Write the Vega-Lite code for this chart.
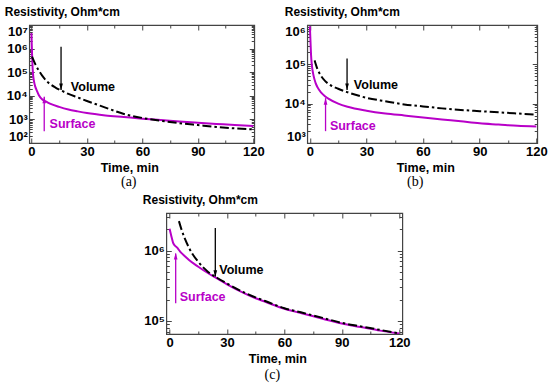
{
  "$schema": "https://vega.github.io/schema/vega-lite/v6.json",
  "padding": {"left": 3, "top": 4, "right": 0, "bottom": 0},
  "background": "white",
  "config": {
    "view": {"stroke": "#444", "strokeWidth": 1.2},
    "axis": {"grid": false, "domain": false, "labelFont": "Liberation Sans", "labelFontWeight": "bold", "labelFontSize": 13, "labelColor": "#000", "titleFont": "Liberation Sans", "titleFontWeight": "bold", "titleFontSize": 12.5, "titleColor": "#000", "tickColor": "#444", "tickWidth": 1, "labelPadding": 7, "titlePadding": 1, "labelOverlap": false, "labelFlush": false, "labelBound": false},
    "text": {"font": "Liberation Sans", "fontWeight": "bold", "fontSize": 12.5}
  },
  "datasets": {
    "curves": [
      {"p":"a","s":"Surface","t":0,"r":4570000},{"p":"a","s":"Surface","t":0.15,"r":1580000},{"p":"a","s":"Surface","t":0.3,"r":631000},{"p":"a","s":"Surface","t":0.6,"r":158000},{"p":"a","s":"Surface","t":1,"r":63100},{"p":"a","s":"Surface","t":1.5,"r":36000},{"p":"a","s":"Surface","t":2,"r":25100},{"p":"a","s":"Surface","t":3,"r":15800},{"p":"a","s":"Surface","t":4,"r":10500},{"p":"a","s":"Surface","t":6,"r":6760},{"p":"a","s":"Surface","t":8,"r":5620},{"p":"a","s":"Surface","t":10,"r":4680},{"p":"a","s":"Surface","t":15,"r":3390},{"p":"a","s":"Surface","t":20,"r":2630},{"p":"a","s":"Surface","t":25,"r":2190},{"p":"a","s":"Surface","t":30,"r":1860},{"p":"a","s":"Surface","t":40,"r":1480},{"p":"a","s":"Surface","t":50,"r":1260},{"p":"a","s":"Surface","t":60,"r":1070},{"p":"a","s":"Surface","t":70,"r":933},{"p":"a","s":"Surface","t":80,"r":813},{"p":"a","s":"Surface","t":90,"r":724},{"p":"a","s":"Surface","t":100,"r":646},{"p":"a","s":"Surface","t":110,"r":575},{"p":"a","s":"Surface","t":120,"r":525},
      {"p":"a","s":"Volume","t":0.3,"r":457000},{"p":"a","s":"Volume","t":2,"r":224000},{"p":"a","s":"Volume","t":4,"r":117000},{"p":"a","s":"Volume","t":6,"r":67600},{"p":"a","s":"Volume","t":8,"r":43700},{"p":"a","s":"Volume","t":10,"r":31600},{"p":"a","s":"Volume","t":13,"r":22400},{"p":"a","s":"Volume","t":16,"r":17000},{"p":"a","s":"Volume","t":20,"r":12000},{"p":"a","s":"Volume","t":25,"r":8510},{"p":"a","s":"Volume","t":30,"r":6030},{"p":"a","s":"Volume","t":35,"r":4370},{"p":"a","s":"Volume","t":40,"r":3160},{"p":"a","s":"Volume","t":50,"r":1700},{"p":"a","s":"Volume","t":60,"r":1150},{"p":"a","s":"Volume","t":70,"r":871},{"p":"a","s":"Volume","t":80,"r":692},{"p":"a","s":"Volume","t":90,"r":575},{"p":"a","s":"Volume","t":100,"r":479},{"p":"a","s":"Volume","t":110,"r":417},{"p":"a","s":"Volume","t":120,"r":380},
      {"p":"b","s":"Surface","t":0,"r":933000},{"p":"b","s":"Surface","t":0.3,"r":398000},{"p":"b","s":"Surface","t":0.6,"r":178000},{"p":"b","s":"Surface","t":1,"r":100000},{"p":"b","s":"Surface","t":2,"r":50100},{"p":"b","s":"Surface","t":3,"r":33900},{"p":"b","s":"Surface","t":4,"r":26300},{"p":"b","s":"Surface","t":6,"r":19100},{"p":"b","s":"Surface","t":8,"r":15500},{"p":"b","s":"Surface","t":10,"r":13200},{"p":"b","s":"Surface","t":15,"r":10000},{"p":"b","s":"Surface","t":20,"r":8320},{"p":"b","s":"Surface","t":30,"r":6610},{"p":"b","s":"Surface","t":40,"r":5620},{"p":"b","s":"Surface","t":50,"r":5010},{"p":"b","s":"Surface","t":60,"r":4470},{"p":"b","s":"Surface","t":70,"r":3980},{"p":"b","s":"Surface","t":80,"r":3550},{"p":"b","s":"Surface","t":90,"r":3160},{"p":"b","s":"Surface","t":100,"r":2950},{"p":"b","s":"Surface","t":110,"r":2750},{"p":"b","s":"Surface","t":120,"r":2630},
      {"p":"b","s":"Volume","t":2.5,"r":126000},{"p":"b","s":"Volume","t":4,"r":75900},{"p":"b","s":"Volume","t":6,"r":50100},{"p":"b","s":"Volume","t":8,"r":38000},{"p":"b","s":"Volume","t":10,"r":31600},{"p":"b","s":"Volume","t":15,"r":24000},{"p":"b","s":"Volume","t":20,"r":19500},{"p":"b","s":"Volume","t":30,"r":14100},{"p":"b","s":"Volume","t":40,"r":11500},{"p":"b","s":"Volume","t":50,"r":9550},{"p":"b","s":"Volume","t":60,"r":8510},{"p":"b","s":"Volume","t":70,"r":7590},{"p":"b","s":"Volume","t":80,"r":6920},{"p":"b","s":"Volume","t":90,"r":6460},{"p":"b","s":"Volume","t":100,"r":6030},{"p":"b","s":"Volume","t":110,"r":5620},{"p":"b","s":"Volume","t":120,"r":5250},
      {"p":"c","s":"Surface","t":0,"r":2040000},{"p":"c","s":"Surface","t":1,"r":1580000},{"p":"c","s":"Surface","t":2,"r":1260000},{"p":"c","s":"Surface","t":4,"r":1100000},{"p":"c","s":"Surface","t":6,"r":933000},{"p":"c","s":"Surface","t":8,"r":832000},{"p":"c","s":"Surface","t":10,"r":741000},{"p":"c","s":"Surface","t":15,"r":589000},{"p":"c","s":"Surface","t":20,"r":479000},{"p":"c","s":"Surface","t":25,"r":398000},{"p":"c","s":"Surface","t":30,"r":331000},{"p":"c","s":"Surface","t":40,"r":240000},{"p":"c","s":"Surface","t":45,"r":209000},{"p":"c","s":"Surface","t":50,"r":186000},{"p":"c","s":"Surface","t":60,"r":148000},{"p":"c","s":"Surface","t":70,"r":126000},{"p":"c","s":"Surface","t":80,"r":107000},{"p":"c","s":"Surface","t":90,"r":91200},{"p":"c","s":"Surface","t":100,"r":81300},{"p":"c","s":"Surface","t":110,"r":72400},{"p":"c","s":"Surface","t":120,"r":66100},
      {"p":"c","s":"Volume","t":4.9,"r":2630000},{"p":"c","s":"Volume","t":6,"r":2090000},{"p":"c","s":"Volume","t":8,"r":1480000},{"p":"c","s":"Volume","t":10,"r":1120000},{"p":"c","s":"Volume","t":12,"r":891000},{"p":"c","s":"Volume","t":15,"r":692000},{"p":"c","s":"Volume","t":18,"r":562000},{"p":"c","s":"Volume","t":20,"r":501000},{"p":"c","s":"Volume","t":25,"r":407000},{"p":"c","s":"Volume","t":30,"r":339000},{"p":"c","s":"Volume","t":40,"r":245000},{"p":"c","s":"Volume","t":50,"r":191000},{"p":"c","s":"Volume","t":60,"r":151000},{"p":"c","s":"Volume","t":70,"r":129000},{"p":"c","s":"Volume","t":80,"r":110000},{"p":"c","s":"Volume","t":90,"r":93300},{"p":"c","s":"Volume","t":100,"r":83200},{"p":"c","s":"Volume","t":110,"r":74100},{"p":"c","s":"Volume","t":120,"r":66100}
    ],
    "arrows": [
      {"p":"a","s":"Volume","t":16,"y1":1200000,"y2":17800,"head":24000},
      {"p":"a","s":"Surface","t":6.9,"y1":316,"y2":9120,"head":6760},
      {"p":"b","s":"Volume","t":19.7,"y1":141000,"y2":22400,"head":26900},
      {"p":"b","s":"Surface","t":8.3,"y1":2000,"y2":13800,"head":11500},
      {"p":"c","s":"Volume","t":23.9,"y1":2090000,"y2":427000,"head":468000},
      {"p":"c","s":"Surface","t":3.2,"y1":178000,"y2":912000,"head":832000}
    ],
    "labels": [
      {"p":"a","s":"Volume","t":21.3,"r":23400,"label":"Volume"},
      {"p":"a","s":"Surface","t":9.8,"r":631,"label":"Surface"},
      {"p":"b","s":"Volume","t":23.3,"r":30200,"label":"Volume"},
      {"p":"b","s":"Surface","t":10.6,"r":2750,"label":"Surface"},
      {"p":"c","s":"Volume","t":26.0,"r":530000,"label":"Volume"},
      {"p":"c","s":"Surface","t":5.3,"r":219000,"label":"Surface"}
    ]
  },
  "spacing": 2,
  "center": true,
  "vconcat": [
    {
      "spacing": 18,
      "hconcat": [
        {
          "width": 225, "height": 118,
          "title": {"text": "(a)", "orient": "bottom", "font": "Liberation Serif", "fontSize": 14, "fontWeight": "normal", "color": "#000", "offset": 1, "dx": -13},
          "resolve": {"axis": {"x": "independent", "y": "independent"}},
          "layer": [
            {
              "data": {"name": "curves"},
              "transform": [{"filter": "datum.p == 'a' && datum.s == 'Surface'"}],
              "mark": {"type": "line", "color": "#b800c8", "strokeWidth": 2, "interpolate": "monotone", "clip": true},
              "encoding": {
                "x": {"field": "t", "type": "quantitative", "scale": {"domain": [-1.2, 120.5], "nice": false, "zero": false},
                  "axis": {"values": [0,15,30,45,60,75,90,105,120], "labelExpr": "datum.value % 30 == 0 ? datum.label : ''", "tickSize": {"condition": {"test": "datum.value % 30 == 0", "value": -5}, "value": -3}, "title": "Time, min", "titleX": 100}},
                "y": {"field": "r", "type": "quantitative", "scale": {"type": "log", "domain": [100, 10000000], "nice": false},
                  "axis": {"values": [100,200,300,400,500,600,700,800,900,1000,2000,3000,4000,5000,6000,7000,8000,9000,10000,20000,30000,40000,50000,60000,70000,80000,90000,100000,200000,300000,400000,500000,600000,700000,800000,900000,1000000,2000000,3000000,4000000,5000000,6000000,7000000,8000000,9000000,10000000],
                    "labelExpr": "abs(log(datum.value)/LN10 - round(log(datum.value)/LN10)) < 0.01 ? '10' + ['⁰','¹','²','³','⁴','⁵','⁶','⁷'][round(log(datum.value)/LN10)] : ''",
                    "labelFlush": true,
                    "tickSize": {"condition": {"test": "abs(log(datum.value)/LN10 - round(log(datum.value)/LN10)) < 0.01", "value": -5}, "value": -3},
                    "title": "Resistivity, Ohm*cm", "titleAngle": 0, "titleAlign": "left", "titleBaseline": "alphabetic", "titleX": -25, "titleY": -10, "titleFontSize": 12}}
              }
            },
            {
              "data": {"name": "curves"},
              "transform": [{"filter": "datum.p == 'a' && datum.s == 'Volume'"}],
              "mark": {"type": "line", "color": "#000", "strokeWidth": 2, "strokeDash": [9, 3, 2.5, 3], "interpolate": "monotone", "clip": true},
              "encoding": {
                "x": {"field": "t", "type": "quantitative", "scale": {"domain": [-1.2, 120.5], "nice": false, "zero": false},
                  "axis": {"orient": "top", "values": [0,15,30,45,60,75,90,105,120], "labels": false, "tickSize": {"condition": {"test": "datum.value % 30 == 0", "value": -5}, "value": -3}, "title": null}},
                "y": {"field": "r", "type": "quantitative", "scale": {"type": "log", "domain": [100, 10000000], "nice": false},
                  "axis": {"orient": "right", "values": [100,200,300,400,500,600,700,800,900,1000,2000,3000,4000,5000,6000,7000,8000,9000,10000,20000,30000,40000,50000,60000,70000,80000,90000,100000,200000,300000,400000,500000,600000,700000,800000,900000,1000000,2000000,3000000,4000000,5000000,6000000,7000000,8000000,9000000,10000000], "labels": false,
                    "tickSize": {"condition": {"test": "abs(log(datum.value)/LN10 - round(log(datum.value)/LN10)) < 0.01", "value": -5}, "value": -3}, "title": null}}
              }
            },
            {
              "data": {"name": "arrows"},
              "transform": [{"filter": "datum.p == 'a'"}],
              "mark": {"type": "rule", "strokeWidth": 1.3},
              "encoding": {
                "x": {"field": "t", "type": "quantitative", "scale": {"domain": [-1.2, 120.5], "nice": false, "zero": false}, "axis": null},
                "y": {"field": "y1", "type": "quantitative", "scale": {"type": "log", "domain": [100, 10000000], "nice": false}, "axis": null},
                "y2": {"field": "y2"},
                "color": {"field": "s", "type": "nominal", "scale": {"domain": ["Surface", "Volume"], "range": ["#b800c8", "#000"]}, "legend": null}
              }
            },
            {
              "data": {"name": "arrows"},
              "transform": [{"filter": "datum.p == 'a'"}],
              "mark": {"type": "point", "filled": true, "size": 45, "opacity": 1},
              "encoding": {
                "x": {"field": "t", "type": "quantitative", "scale": {"domain": [-1.2, 120.5], "nice": false, "zero": false}, "axis": null},
                "y": {"field": "head", "type": "quantitative", "scale": {"type": "log", "domain": [100, 10000000], "nice": false}, "axis": null},
                "shape": {"field": "s", "type": "nominal", "scale": {"domain": ["Surface", "Volume"], "range": ["M-0.55,1L0.55,1L0,-1Z", "M-0.55,-1L0.55,-1L0,1Z"]}, "legend": null},
                "color": {"field": "s", "type": "nominal", "scale": {"domain": ["Surface", "Volume"], "range": ["#b800c8", "#000"]}, "legend": null}
              }
            },
            {
              "data": {"name": "labels"},
              "transform": [{"filter": "datum.p == 'a'"}],
              "mark": {"type": "text", "align": "left", "baseline": "middle"},
              "encoding": {
                "x": {"field": "t", "type": "quantitative", "scale": {"domain": [-1.2, 120.5], "nice": false, "zero": false}, "axis": null},
                "y": {"field": "r", "type": "quantitative", "scale": {"type": "log", "domain": [100, 10000000], "nice": false}, "axis": null},
                "text": {"field": "label"},
                "color": {"field": "s", "type": "nominal", "scale": {"domain": ["Surface", "Volume"], "range": ["#b800c8", "#000"]}, "legend": null}
              }
            }
          ]
        },
        {
          "width": 230, "height": 118,
          "title": {"text": "(b)", "orient": "bottom", "font": "Liberation Serif", "fontSize": 14, "fontWeight": "normal", "color": "#000", "offset": 1, "dx": -7},
          "resolve": {"axis": {"x": "independent", "y": "independent"}},
          "layer": [
            {
              "data": {"name": "curves"},
              "transform": [{"filter": "datum.p == 'b' && datum.s == 'Surface'"}],
              "mark": {"type": "line", "color": "#b800c8", "strokeWidth": 2, "interpolate": "monotone", "clip": true},
              "encoding": {
                "x": {"field": "t", "type": "quantitative", "scale": {"domain": [-1.4, 120.5], "nice": false, "zero": false},
                  "axis": {"values": [0,15,30,45,60,75,90,105,120], "labelExpr": "datum.value % 30 == 0 ? datum.label : ''", "tickSize": {"condition": {"test": "datum.value % 30 == 0", "value": -5}, "value": -3}, "title": "Time, min", "titleX": 118}},
                "y": {"field": "r", "type": "quantitative", "scale": {"type": "log", "domain": [1000, 1000000], "nice": false},
                  "axis": {"values": [1000,2000,3000,4000,5000,6000,7000,8000,9000,10000,20000,30000,40000,50000,60000,70000,80000,90000,100000,200000,300000,400000,500000,600000,700000,800000,900000,1000000],
                    "labelExpr": "abs(log(datum.value)/LN10 - round(log(datum.value)/LN10)) < 0.01 ? '10' + ['⁰','¹','²','³','⁴','⁵','⁶','⁷'][round(log(datum.value)/LN10)] : ''",
                    "labelFlush": true,
                    "tickSize": {"condition": {"test": "abs(log(datum.value)/LN10 - round(log(datum.value)/LN10)) < 0.01", "value": -5}, "value": -3},
                    "title": "Resistivity, Ohm*cm", "titleAngle": 0, "titleAlign": "left", "titleBaseline": "alphabetic", "titleX": -23, "titleY": -10, "titleFontSize": 12}}
              }
            },
            {
              "data": {"name": "curves"},
              "transform": [{"filter": "datum.p == 'b' && datum.s == 'Volume'"}],
              "mark": {"type": "line", "color": "#000", "strokeWidth": 2, "strokeDash": [9, 3, 2.5, 3], "interpolate": "monotone", "clip": true},
              "encoding": {
                "x": {"field": "t", "type": "quantitative", "scale": {"domain": [-1.4, 120.5], "nice": false, "zero": false},
                  "axis": {"orient": "top", "values": [0,15,30,45,60,75,90,105,120], "labels": false, "tickSize": {"condition": {"test": "datum.value % 30 == 0", "value": -5}, "value": -3}, "title": null}},
                "y": {"field": "r", "type": "quantitative", "scale": {"type": "log", "domain": [1000, 1000000], "nice": false},
                  "axis": {"orient": "right", "values": [1000,2000,3000,4000,5000,6000,7000,8000,9000,10000,20000,30000,40000,50000,60000,70000,80000,90000,100000,200000,300000,400000,500000,600000,700000,800000,900000,1000000], "labels": false,
                    "tickSize": {"condition": {"test": "abs(log(datum.value)/LN10 - round(log(datum.value)/LN10)) < 0.01", "value": -5}, "value": -3}, "title": null}}
              }
            },
            {
              "data": {"name": "arrows"},
              "transform": [{"filter": "datum.p == 'b'"}],
              "mark": {"type": "rule", "strokeWidth": 1.3},
              "encoding": {
                "x": {"field": "t", "type": "quantitative", "scale": {"domain": [-1.4, 120.5], "nice": false, "zero": false}, "axis": null},
                "y": {"field": "y1", "type": "quantitative", "scale": {"type": "log", "domain": [1000, 1000000], "nice": false}, "axis": null},
                "y2": {"field": "y2"},
                "color": {"field": "s", "type": "nominal", "scale": {"domain": ["Surface", "Volume"], "range": ["#b800c8", "#000"]}, "legend": null}
              }
            },
            {
              "data": {"name": "arrows"},
              "transform": [{"filter": "datum.p == 'b'"}],
              "mark": {"type": "point", "filled": true, "size": 45, "opacity": 1},
              "encoding": {
                "x": {"field": "t", "type": "quantitative", "scale": {"domain": [-1.4, 120.5], "nice": false, "zero": false}, "axis": null},
                "y": {"field": "head", "type": "quantitative", "scale": {"type": "log", "domain": [1000, 1000000], "nice": false}, "axis": null},
                "shape": {"field": "s", "type": "nominal", "scale": {"domain": ["Surface", "Volume"], "range": ["M-0.55,1L0.55,1L0,-1Z", "M-0.55,-1L0.55,-1L0,1Z"]}, "legend": null},
                "color": {"field": "s", "type": "nominal", "scale": {"domain": ["Surface", "Volume"], "range": ["#b800c8", "#000"]}, "legend": null}
              }
            },
            {
              "data": {"name": "labels"},
              "transform": [{"filter": "datum.p == 'b'"}],
              "mark": {"type": "text", "align": "left", "baseline": "middle"},
              "encoding": {
                "x": {"field": "t", "type": "quantitative", "scale": {"domain": [-1.4, 120.5], "nice": false, "zero": false}, "axis": null},
                "y": {"field": "r", "type": "quantitative", "scale": {"type": "log", "domain": [1000, 1000000], "nice": false}, "axis": null},
                "text": {"field": "label"},
                "color": {"field": "s", "type": "nominal", "scale": {"domain": ["Surface", "Volume"], "range": ["#b800c8", "#000"]}, "legend": null}
              }
            }
          ]
        }
      ]
    },
    {
      "width": 236, "height": 121,
      "title": {"text": "(c)", "orient": "bottom", "font": "Liberation Serif", "fontSize": 14, "fontWeight": "normal", "color": "#000", "offset": 3, "dx": -12},
      "resolve": {"axis": {"x": "independent", "y": "independent"}},
      "layer": [
        {
          "data": {"name": "curves"},
          "transform": [{"filter": "datum.p == 'c' && datum.s == 'Surface'"}],
          "mark": {"type": "line", "color": "#b800c8", "strokeWidth": 2, "interpolate": "monotone", "clip": true},
          "encoding": {
            "x": {"field": "t", "type": "quantitative", "scale": {"domain": [-1.7, 121.6], "nice": false, "zero": false},
              "axis": {"values": [0,15,30,45,60,75,90,105,120], "labelExpr": "datum.value % 30 == 0 ? datum.label : ''", "tickSize": {"condition": {"test": "datum.value % 30 == 0", "value": -5}, "value": -3}, "title": "Time, min", "titleX": 111}},
            "y": {"field": "r", "type": "quantitative", "scale": {"type": "log", "domain": [64800, 3430000], "nice": false},
              "axis": {"values": [70000,80000,90000,100000,200000,300000,400000,500000,600000,700000,800000,900000,1000000,2000000,3000000],
                "labelExpr": "abs(log(datum.value)/LN10 - round(log(datum.value)/LN10)) < 0.01 ? '10' + ['⁰','¹','²','³','⁴','⁵','⁶','⁷'][round(log(datum.value)/LN10)] : ''",
                "tickSize": {"condition": {"test": "abs(log(datum.value)/LN10 - round(log(datum.value)/LN10)) < 0.01", "value": -5}, "value": -3},
                "title": "Resistivity, Ohm*cm", "titleAngle": 0, "titleAlign": "left", "titleBaseline": "alphabetic", "titleX": -24, "titleY": -10, "titleFontSize": 12}}
          }
        },
        {
          "data": {"name": "curves"},
          "transform": [{"filter": "datum.p == 'c' && datum.s == 'Volume'"}],
          "mark": {"type": "line", "color": "#000", "strokeWidth": 2, "strokeDash": [9, 3, 2.5, 3], "interpolate": "monotone", "clip": true},
          "encoding": {
            "x": {"field": "t", "type": "quantitative", "scale": {"domain": [-1.7, 121.6], "nice": false, "zero": false},
              "axis": {"orient": "top", "values": [0,15,30,45,60,75,90,105,120], "labels": false, "tickSize": {"condition": {"test": "datum.value % 30 == 0", "value": -5}, "value": -3}, "title": null}},
            "y": {"field": "r", "type": "quantitative", "scale": {"type": "log", "domain": [64800, 3430000], "nice": false},
              "axis": {"orient": "right", "values": [70000,80000,90000,100000,200000,300000,400000,500000,600000,700000,800000,900000,1000000,2000000,3000000], "labels": false,
                "tickSize": {"condition": {"test": "abs(log(datum.value)/LN10 - round(log(datum.value)/LN10)) < 0.01", "value": -5}, "value": -3}, "title": null}}
          }
        },
        {
          "data": {"name": "arrows"},
          "transform": [{"filter": "datum.p == 'c'"}],
          "mark": {"type": "rule", "strokeWidth": 1.3},
          "encoding": {
            "x": {"field": "t", "type": "quantitative", "scale": {"domain": [-1.7, 121.6], "nice": false, "zero": false}, "axis": null},
            "y": {"field": "y1", "type": "quantitative", "scale": {"type": "log", "domain": [64800, 3430000], "nice": false}, "axis": null},
            "y2": {"field": "y2"},
            "color": {"field": "s", "type": "nominal", "scale": {"domain": ["Surface", "Volume"], "range": ["#b800c8", "#000"]}, "legend": null}
          }
        },
        {
          "data": {"name": "arrows"},
          "transform": [{"filter": "datum.p == 'c'"}],
          "mark": {"type": "point", "filled": true, "size": 45, "opacity": 1},
          "encoding": {
            "x": {"field": "t", "type": "quantitative", "scale": {"domain": [-1.7, 121.6], "nice": false, "zero": false}, "axis": null},
            "y": {"field": "head", "type": "quantitative", "scale": {"type": "log", "domain": [64800, 3430000], "nice": false}, "axis": null},
            "shape": {"field": "s", "type": "nominal", "scale": {"domain": ["Surface", "Volume"], "range": ["M-0.55,1L0.55,1L0,-1Z", "M-0.55,-1L0.55,-1L0,1Z"]}, "legend": null},
            "color": {"field": "s", "type": "nominal", "scale": {"domain": ["Surface", "Volume"], "range": ["#b800c8", "#000"]}, "legend": null}
          }
        },
        {
          "data": {"name": "labels"},
          "transform": [{"filter": "datum.p == 'c'"}],
          "mark": {"type": "text", "align": "left", "baseline": "middle"},
          "encoding": {
            "x": {"field": "t", "type": "quantitative", "scale": {"domain": [-1.7, 121.6], "nice": false, "zero": false}, "axis": null},
            "y": {"field": "r", "type": "quantitative", "scale": {"type": "log", "domain": [64800, 3430000], "nice": false}, "axis": null},
            "text": {"field": "label"},
            "color": {"field": "s", "type": "nominal", "scale": {"domain": ["Surface", "Volume"], "range": ["#b800c8", "#000"]}, "legend": null}
          }
        }
      ]
    }
  ]
}
